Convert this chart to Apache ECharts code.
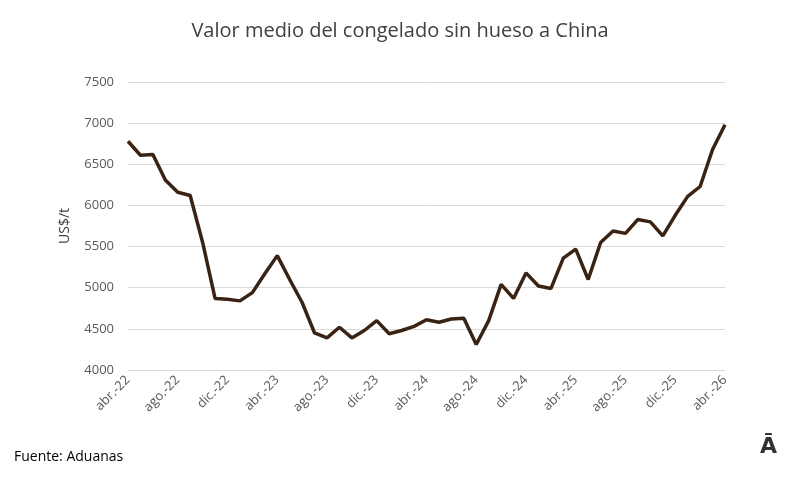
<!DOCTYPE html><html><head><meta charset="utf-8"><script src="https://cdn.jsdelivr.net/npm/echarts@6/dist/echarts.min.js"></script></head><body style="margin:0;background:#fff"><div id="c" style="width:800px;height:478px"></div><script>
const months=['ene','feb','mar','abr','may','jun','jul','ago','sep','oct','nov','dic'];
const categories=[];
for(let y=22;y<=26;y++)for(let m=0;m<12;m++){if((y===22&&m<3)||(y===26&&m>3))continue;categories.push(months[m]+'.-'+y);}
const values=[6780,6610,6620,6310,6160,6120,5550,4870,4860,4840,4940,5170,5390,5100,4820,4450,4390,4520,4390,4480,4600,4440,4480,4530,4610,4580,4620,4630,4310,4600,5040,4870,5180,5020,4990,5360,5470,5100,5550,5690,5660,5830,5800,5630,5880,6110,6230,6680,6980];
const ch=echarts.init(document.getElementById('c'));
ch.setOption({animation:false,
title:{text:'Valor medio del congelado sin hueso a China',left:'center',top:16,textStyle:{fontFamily:'Open Sans',fontWeight:'normal',fontSize:20,color:'#404040'}},
graphic:[{type:'text',left:14,top:450,style:{text:'Fuente: Aduanas',font:'14px "Open Sans"',fill:'#000'}},
{type:'text',left:760,top:436,style:{text:'Ā',font:'bold 22px "DejaVu Sans"',fill:'#333'}}],
grid:{left:128,right:75,top:82,bottom:108},
xAxis:{type:'category',data:categories,boundaryGap:false,axisTick:{show:false},axisLine:{lineStyle:{color:'#d9d9d9'}},
axisLabel:{interval:3,rotate:45,color:'#595959',fontFamily:'Open Sans',fontSize:13}},
yAxis:{type:'value',min:4000,max:7500,interval:500,name:'US$/t',nameLocation:'middle',nameGap:56,nameTextStyle:{color:'#404040',fontFamily:'Open Sans',fontSize:14},
axisLabel:{color:'#595959',fontFamily:'Open Sans',fontSize:13,margin:14,formatter:v=>String(v)},splitLine:{lineStyle:{color:'#d9d9d9'}}},
series:[{type:'line',data:values,symbol:'none',lineStyle:{color:'#3b2314',width:3.5}}]});
</script></body></html>
